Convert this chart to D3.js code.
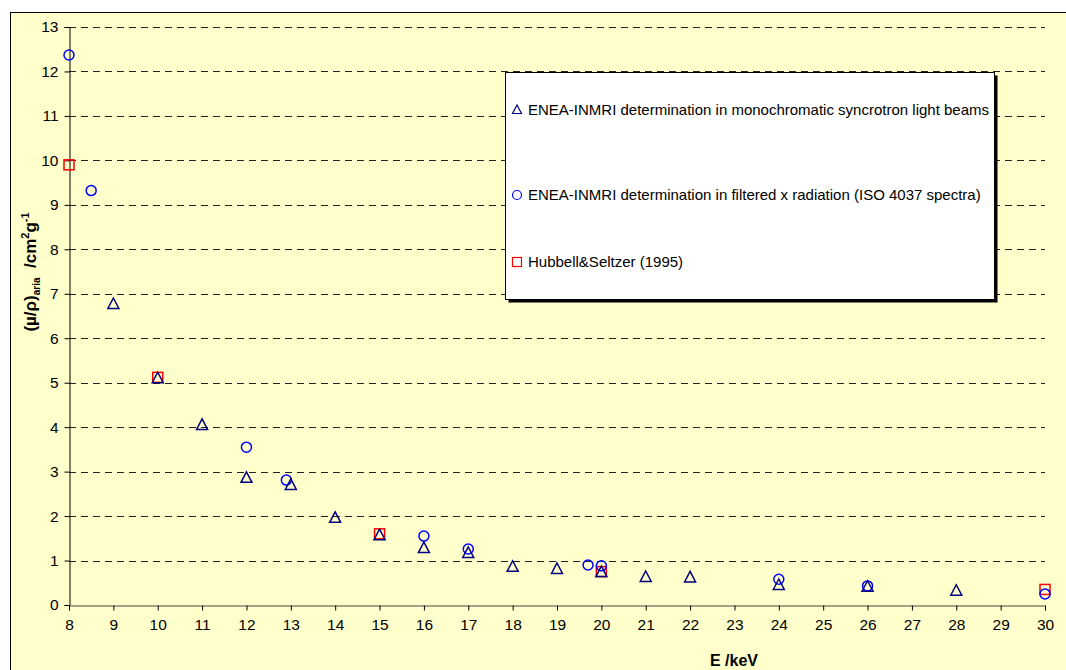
<!DOCTYPE html>
<html>
<head>
<meta charset="utf-8">
<title>Mass attenuation coefficient of air</title>
<script src="https://cdn.jsdelivr.net/npm/d3@7"></script>
<style>
  body { margin: 0; background: #fff; }
  text { font-family: Arial, "Liberation Sans", sans-serif; }
</style>
</head>
<body>
<div id="chart"></div>
<script>

// data
var triE  = [9, 10, 11, 12, 13, 14, 15, 16, 17, 18, 19, 20, 21, 22, 24, 26, 28];
var triMu = [6.77, 5.1, 4.05, 2.86, 2.7, 1.96, 1.57, 1.28, 1.17, 0.86, 0.81, 0.74, 0.63, 0.62, 0.45, 0.41, 0.32];

var circE  = [8, 8.5, 12, 12.9, 16, 17, 19.7, 20, 24, 26, 30];
var circMu = [12.37, 9.32, 3.55, 2.81, 1.55, 1.26, 0.9, 0.88, 0.58, 0.43, 0.25];

var sqE  = [8, 10, 15, 20, 30];
var sqMu = [9.9, 5.12, 1.6, 0.75, 0.35];

var xTicks = d3.range(8, 31);
var yTicks = d3.range(0, 14);

var legendLabels = [
  'ENEA-INMRI determination in monochromatic syncrotron light beams',
  'ENEA-INMRI determination in filtered x radiation (ISO 4037 spectra)',
  'Hubbell&Seltzer (1995)'
];

var width = 1066, height = 670;
var FONT = 'Arial, "Liberation Sans", sans-serif';

var svg = d3.select('#chart').append('svg')
  .attr('width', width)
  .attr('height', height);

// chart frame
svg.append('rect')
  .attr('x', 10.5).attr('y', 12.5)
  .attr('width', 1100).attr('height', 700)
  .attr('fill', '#FFFFCC')
  .attr('stroke', '#000');

var x = d3.scaleLinear().domain([8, 30]).range([69, 1045]);
var y = d3.scaleLinear().domain([0, 13]).range([605, 27]);

// dashed grid
svg.append('g')
  .selectAll('line')
  .data(yTicks.filter(function (d) { return d > 0; }))
  .enter().append('line')
    .attr('x1', x(8)).attr('x2', x(30))
    .attr('y1', function (d) { return Math.round(y(d)) + 0.5; })
    .attr('y2', function (d) { return Math.round(y(d)) + 0.5; })
    .attr('stroke', '#222')
    .attr('stroke-dasharray', '7,5');

// axes
var yAxis = svg.append('g')
  .attr('transform', 'translate(' + (x(8) + 0.5) + ',0)')
  .call(d3.axisLeft(y).tickValues(yTicks).tickSize(5).tickPadding(6).tickFormat(d3.format('d')));

var xAxis = svg.append('g')
  .attr('transform', 'translate(0,' + (y(0) + 0.5) + ')')
  .call(d3.axisBottom(x).tickValues(xTicks).tickSize(5).tickPadding(8).tickFormat(d3.format('d')));

[yAxis, xAxis].forEach(function (g) {
  g.attr('font-size', 15.5).attr('font-family', FONT);
  g.select('.domain').attr('stroke', '#000');
  g.selectAll('.tick line').attr('stroke', '#000');
  g.selectAll('.tick text').attr('fill', '#000');
});
xAxis.select('.domain').attr('stroke', '#444');

// axis titles
svg.append('text')
  .attr('x', 734).attr('y', 666)
  .attr('text-anchor', 'middle')
  .attr('font-size', 16)
  .attr('font-weight', 'bold')
  .text('E /keV');

var yl = svg.append('text')
  .attr('transform', 'translate(36,272) rotate(-90)')
  .attr('text-anchor', 'middle')
  .attr('font-size', 17)
  .attr('font-weight', 'bold');
yl.append('tspan').text('(\u00b5/\u03c1)');
yl.append('tspan').attr('dy', 4).attr('font-size', 10).text('aria');
yl.append('tspan').attr('dy', -4).text('\u00a0 /cm');
yl.append('tspan').attr('dy', -7).attr('font-size', 11).text('2');
yl.append('tspan').attr('dy', 7).text('g');
yl.append('tspan').attr('dy', -7).attr('font-size', 11).text('-1');

// marker shapes
function triPath(cx, cy) {
  return 'M' + cx + ',' + (cy - 6) + 'L' + (cx + 5.5) + ',' + (cy + 4.5) + 'L' + (cx - 5.5) + ',' + (cy + 4.5) + 'Z';
}

function drawSquares(g, xs, ys) {
  g.selectAll(null).data(xs).enter().append('rect')
    .attr('x', function (d) { return x(d) - 5; })
    .attr('y', function (d, i) { return y(ys[i]) - 5; })
    .attr('width', 10).attr('height', 10)
    .attr('fill', 'none').attr('stroke', '#FF0000').attr('stroke-width', 1.5);
}
function drawCircles(g, xs, ys) {
  g.selectAll(null).data(xs).enter().append('circle')
    .attr('cx', function (d) { return x(d); })
    .attr('cy', function (d, i) { return y(ys[i]); })
    .attr('r', 5)
    .attr('fill', 'none').attr('stroke', '#0000FF').attr('stroke-width', 1.5);
}
function drawTris(g, xs, ys) {
  g.selectAll(null).data(xs).enter().append('path')
    .attr('d', function (d, i) { return triPath(x(d), y(ys[i])); })
    .attr('fill', 'none').attr('stroke', '#000080').attr('stroke-width', 1.5);
}

var marks = svg.append('g');
drawSquares(marks.append('g'), sqE, sqMu);
drawCircles(marks.append('g'), circE, circMu);
drawTris(marks.append('g'), triE, triMu);

// legend
var lg = svg.append('g');
lg.append('rect')
  .attr('x', 508.5).attr('y', 75.5).attr('width', 489).attr('height', 227)
  .attr('fill', '#000');
lg.append('rect')
  .attr('x', 505.5).attr('y', 72.5).attr('width', 489).attr('height', 227)
  .attr('fill', '#fff').attr('stroke', '#000');

var ly = [110, 195, 262];
lg.append('path')
  .attr('d', 'M517,' + (ly[0] - 5) + 'L521.5,' + (ly[0] + 3.5) + 'L512.5,' + (ly[0] + 3.5) + 'Z')
  .attr('fill', 'none').attr('stroke', '#000080').attr('stroke-width', 1.2);
lg.append('circle')
  .attr('cx', 517).attr('cy', ly[1]).attr('r', 4.5)
  .attr('fill', 'none').attr('stroke', '#0000FF').attr('stroke-width', 1.2);
lg.append('rect')
  .attr('x', 512.5).attr('y', ly[2] - 4.5).attr('width', 9).attr('height', 9)
  .attr('fill', 'none').attr('stroke', '#FF0000').attr('stroke-width', 1.2);

lg.selectAll('text.lab')
  .data(legendLabels)
  .enter().append('text')
    .attr('class', 'lab')
    .attr('x', 528)
    .attr('y', function (d, i) { return ly[i] + 5; })
    .attr('font-size', 15)
    .text(function (d) { return d; });

</script>
</body>
</html>
